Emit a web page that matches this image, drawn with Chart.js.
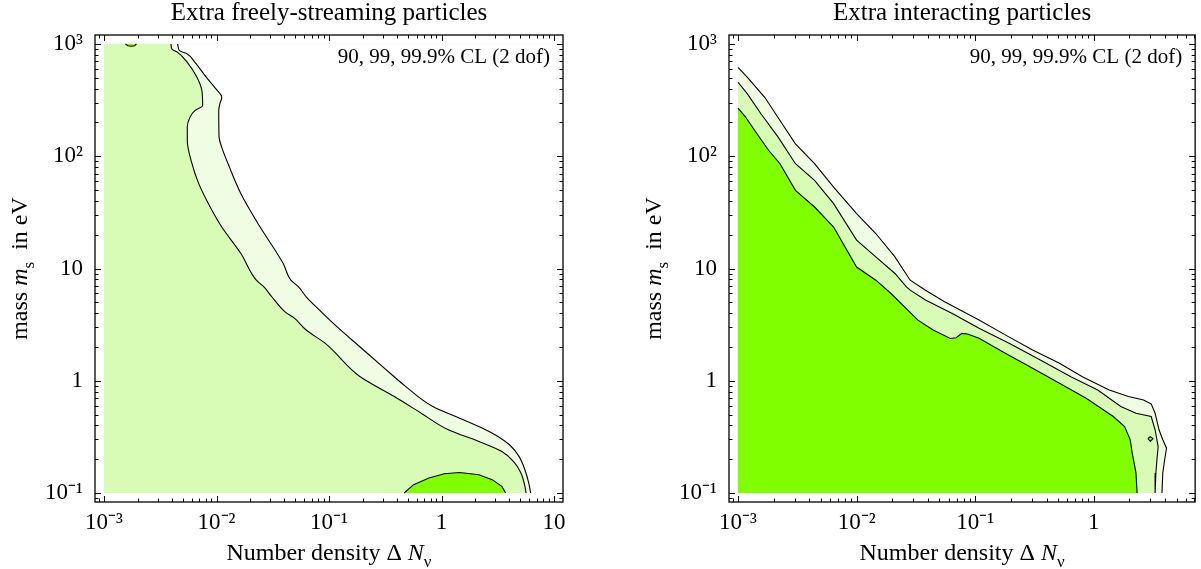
<!DOCTYPE html>
<html><head><meta charset="utf-8">
<script src="https://cdn.jsdelivr.net/npm/chart.js@4/dist/chart.umd.min.js"></script>
<style>
html,body{margin:0;padding:0;background:#fff;}
#wrap{position:relative;width:1201px;height:569px;overflow:hidden;}
canvas{position:absolute;top:0;}
</style></head><body>
<div id="wrap">
<canvas id="left" width="600" height="569" style="left:0"></canvas>
<canvas id="right" width="601" height="569" style="left:600px"></canvas>
</div>
<script>
// ---------------- text ----------------
const panelTitles = ['Extra freely-streaming particles', 'Extra interacting particles'];
const clLabel = '90, 99, 99.9% CL (2 dof)';
const yTitleParts = [['mass ', 'n'], ['m', 'i'], ['s', 'sub'], ['  in eV', 'n']];
const xTitleParts = [['Number density Δ ', 'n'], ['N', 'i'], ['ν', 'sub']];

// ---------------- ticks ----------------
const xTickValuesLeft = [1e-3, 1e-2, 1e-1, 1, 10];
const xTickLabelsLeft = ['10⁻³', '10⁻²', '10⁻¹', '1', '10'];
const xTickValuesRight = [1e-3, 1e-2, 1e-1, 1];
const xTickLabelsRight = ['10⁻³', '10⁻²', '10⁻¹', '1'];
const yTickValues = [0.1, 1, 10, 100, 1000];
const yTickLabels = ['10⁻¹', '1', '10', '10²', '10³'];
const minorFactors = [2, 3, 4, 5, 6, 7, 8, 9];

// data domain of the shaded regions
const domainXMin = 0.001;
const domainXMaxLeft = 10;
const domainYMin = 0.1;
const domainYMax = 1000;

// ---------------- left panel: freely-streaming ----------------
// 99.9% CL contour
const freeOuterX = [0.00452, 0.00470, 0.00550, 0.00643, 0.00813, 0.00989, 0.01114, 0.01072, 0.01047, 0.01054, 0.01114, 0.01303, 0.01648, 0.02443, 0.0392, 0.0458, 0.0536, 0.0627, 0.0794, 0.1175, 0.188, 0.301, 0.482, 0.837, 1.45, 2.32, 3.18, 4.02, 4.90, 5.51, 5.96, 6.20];
const freeOuterY = [1000, 871, 815, 686, 505, 398, 335, 293, 255, 148, 120, 80, 46.4, 23.4, 11.07, 7.87, 6.85, 5.60, 4.41, 3.03, 2.01, 1.33, 0.887, 0.589, 0.464, 0.378, 0.319, 0.269, 0.211, 0.161, 0.123, 0.1];
// 99% CL contour
const freeMidX = [0.00394, 0.00401, 0.00452, 0.00550, 0.00670, 0.00741, 0.00753, 0.00643, 0.00581, 0.00550, 0.00550, 0.00594, 0.00695, 0.00879, 0.01114, 0.01648, 0.0226, 0.0264, 0.0310, 0.0407, 0.0495, 0.0627, 0.0927, 0.188, 0.381, 0.660, 1.15, 2.15, 3.44, 4.36, 5.08, 5.51, 5.64];
const freeMidY = [1000, 903, 842, 686, 505, 385, 283, 255, 223, 181, 138, 91.8, 57.0, 35.3, 23.4, 13.6, 7.87, 6.85, 5.60, 4.11, 3.59, 2.83, 2.15, 1.09, 0.723, 0.514, 0.366, 0.288, 0.234, 0.191, 0.151, 0.115, 0.1];
// 90% CL islands
const freeInnerX = [0.465, 0.565, 0.773, 1.06, 1.45, 2.15, 2.82, 3.44, 3.72];
const freeInnerY = [0.1, 0.1186, 0.136, 0.1485, 0.1525, 0.1455, 0.1315, 0.1146, 0.1];
const freeIslandX = [0.00155, 0.00163, 0.00175, 0.00187, 0.00194];
const freeIslandY = [1000, 965, 955, 965, 1000];

// ---------------- right panel: interacting ----------------
const intOuterX = [0.001, 0.00120, 0.00168, 0.00226, 0.00305, 0.00442, 0.00640, 0.0100, 0.01452, 0.02105, 0.0283, 0.0381, 0.0552, 0.1078, 0.181, 0.305, 0.514, 0.802, 1.35, 1.96, 2.63, 3.05, 3.29, 3.55, 3.82, 4.11, 3.96, 3.82, 3.76];
const intOuterY = [620, 505, 335, 208, 129, 85.8, 53.1, 30.8, 20.5, 12.7, 7.87, 6.41, 5.05, 3.47, 2.55, 1.88, 1.43, 1.087, 0.828, 0.723, 0.675, 0.622, 0.514, 0.366, 0.298, 0.251, 0.198, 0.151, 0.1];
const intMidX = [0.001, 0.00120, 0.00156, 0.00218, 0.00305, 0.00442, 0.00640, 0.0100, 0.01452, 0.02105, 0.0263, 0.0283, 0.0381, 0.0641, 0.1078, 0.195, 0.354, 0.641, 1.08, 1.69, 2.27, 3.05, 3.29, 3.49, 3.41, 3.34, 3.29];
const intMidY = [456, 359, 239, 148, 85.8, 60.9, 37.8, 17.9, 12.7, 9.03, 6.85, 6.41, 5.24, 3.98, 2.93, 2.15, 1.53, 1.087, 0.828, 0.589, 0.514, 0.480, 0.366, 0.259, 0.198, 0.151, 0.1];
const intInnerX = [0.001, 0.00116, 0.00145, 0.00181, 0.00226, 0.00305, 0.00442, 0.00640, 0.0100, 0.01452, 0.0195, 0.0329, 0.0442, 0.0618, 0.0691, 0.0772, 0.0863, 0.1078, 0.181, 0.305, 0.514, 0.863, 1.46, 1.82, 2.03, 2.11, 2.27, 2.32];
const intInnerY = [268, 223, 158, 113, 85.8, 49.7, 35.3, 23.4, 10.3, 7.87, 5.99, 3.47, 2.83, 2.38, 2.42, 2.64, 2.61, 2.39, 1.75, 1.29, 0.950, 0.699, 0.480, 0.391, 0.298, 0.227, 0.151, 0.1];
const intIslandX = [2.86, 2.99, 3.16, 3.00, 2.86];
const intIslandY = [0.305, 0.318, 0.305, 0.288, 0.305];

// ---------------- colours ----------------
const col999 = '#effee2';
const col99 = '#d8fcb6';
const col90 = '#80ff00';
const FONT = '"Liberation Serif", "Times New Roman", serif';

function pts(xs, ys) { return xs.map((x, i) => ({x: x, y: ys[i]})); }
function region(xs, ys) {
  const p = pts(xs, ys);
  const poly = [{x: domainXMin, y: domainYMin}];
  if (p[0].x > domainXMin) poly.push({x: domainXMin, y: p[0].y});
  return poly.concat(p);
}
function fillDs(data, color, order, smooth) {
  return {data: data, fill: 'shape', backgroundColor: color, borderColor: 'rgba(0,0,0,0)', borderWidth: 0,
    pointRadius: 0, tension: 0, indexAxis: 'y', cubicInterpolationMode: smooth ? 'monotone' : 'default', order: order};
}
function lineDs(data, smooth, color, width, order) {
  return {data: data, fill: false, borderColor: color || '#000', borderWidth: width || 1.1, pointRadius: 0,
    tension: 0, indexAxis: 'y', cubicInterpolationMode: smooth ? 'monotone' : 'default', order: order || 0};
}
function tickList(majors, min, max) {
  const out = [];
  const decades = [majors[0] / 10].concat(majors);
  decades.forEach(function (d) {
    if (d >= min && d <= max && majors.indexOf(d) >= 0) out.push({value: d, major: true});
    minorFactors.forEach(function (f) {
      const v = +(d * f).toPrecision(6);
      if (v >= min && v <= max) out.push({value: v, major: false});
    });
  });
  return out.sort(function (a, b) { return a.value - b.value; });
}

function drawRich(ctx, parts, size) {
  const specs = parts.map(function (p) {
    const t = p[0], s = p[1];
    const font = s === 'i' ? 'italic ' + size + 'px ' + FONT : s === 'sub' ? Math.round(size * 0.72) + 'px ' + FONT : size + 'px ' + FONT;
    ctx.font = font;
    return {t: t, font: font, dy: s === 'sub' ? size * 0.28 : 0, w: ctx.measureText(t).width};
  });
  const total = specs.reduce(function (a, s) { return a + s.w; }, 0);
  let x = -total / 2;
  ctx.textAlign = 'left';
  ctx.textBaseline = 'alphabetic';
  specs.forEach(function (s) { ctx.font = s.font; ctx.fillText(s.t, x, s.dy); x += s.w; });
}

const framePlugin = {
  id: 'frame',
  afterDatasetsDraw: function (chart) {
    const ctx = chart.ctx, a = chart.chartArea;
    ctx.save();
    ctx.strokeStyle = '#000';
    ctx.lineWidth = 1;
    ctx.beginPath();
    const xs = chart.scales.x, ys = chart.scales.y;
    xs.ticks.forEach(function (t) {
      const px = Math.round(xs.getPixelForValue(t.value)) + 0.5;
      const L = t.major ? 6 : 3.5;
      ctx.moveTo(px, a.bottom); ctx.lineTo(px, a.bottom - L);
      ctx.moveTo(px, a.top); ctx.lineTo(px, a.top + L);
    });
    ys.ticks.forEach(function (t) {
      const py = Math.round(ys.getPixelForValue(t.value)) + 0.5;
      const L = t.major ? 6 : 3.5;
      ctx.moveTo(a.left, py); ctx.lineTo(a.left + L, py);
      ctx.moveTo(a.right, py); ctx.lineTo(a.right - L, py);
    });
    ctx.stroke();
    ctx.lineWidth = 1.3;
    ctx.strokeRect(a.left, a.top, a.right - a.left, a.bottom - a.top);
    // CL note
    ctx.fillStyle = '#000';
    ctx.font = '21px ' + FONT;
    ctx.textAlign = 'right';
    ctx.textBaseline = 'alphabetic';
    ctx.fillText(clLabel, a.right - 13, a.top + 28);
    // x axis title
    ctx.save();
    ctx.translate((a.left + a.right) / 2, a.bottom + 58);
    drawRich(ctx, xTitleParts, 24);
    ctx.restore();
    // y axis title
    ctx.save();
    ctx.translate(a.left - 68, (a.top + a.bottom) / 2);
    ctx.rotate(-Math.PI / 2);
    drawRich(ctx, yTitleParts, 24);
    ctx.restore();
    ctx.restore();
  }
};

function makeChart(id, title, datasets, xmin, xmax, xMajors, xLabels, yAxisWidth, padRight) {
  const yMin = Math.pow(10, -1.08), yMax = Math.pow(10, 3.08);
  return new Chart(document.getElementById(id), {
    type: 'line',
    data: {datasets: datasets},
    plugins: [framePlugin],
    options: {
      responsive: false,
      animation: false,
      events: [],
      indexAxis: 'y',
      layout: {padding: {left: 0, right: padRight, top: 0, bottom: 0}},
      plugins: {
        legend: {display: false},
        tooltip: {enabled: false},
        title: {display: true, text: title, fullSize: false, color: '#000',
          font: {family: FONT, size: 25, weight: 'normal', lineHeight: 1.0},
          padding: {top: 1, bottom: 9}}
      },
      scales: {
        x: {
          type: 'logarithmic', position: 'bottom', bounds: 'data', min: xmin, max: xmax,
          grid: {display: false, drawTicks: false}, border: {display: false},
          afterBuildTicks: function (s) { s.ticks = tickList(xMajors, xmin, xmax); },
          afterFit: function (s) { s.height = 67; },
          ticks: {autoSkip: false, maxRotation: 0, padding: 7, color: '#000',
            font: {family: FONT, size: 23},
            callback: function (v) { const k = xMajors.indexOf(v); return k >= 0 ? xLabels[k] : ''; }}
        },
        y: {
          type: 'logarithmic', position: 'left', bounds: 'data', min: yMin, max: yMax,
          grid: {display: false, drawTicks: false}, border: {display: false},
          afterBuildTicks: function (s) { s.ticks = tickList(yTickValues, yMin, yMax); },
          afterFit: function (s) { s.width = yAxisWidth; },
          ticks: {autoSkip: false, padding: 12, color: '#000',
            font: {family: FONT, size: 23},
            callback: function (v) { const k = yTickValues.indexOf(v); return k >= 0 ? yTickLabels[k] : ''; }}
        }
      }
    }
  });
}

const leftSets = [
  lineDs(pts(freeOuterX, freeOuterY), true),
  lineDs(pts(freeMidX, freeMidY), true),
  lineDs(pts(freeInnerX, freeInnerY), false),
  lineDs(pts(freeIslandX, freeIslandY), false),
  fillDs(pts(freeInnerX, freeInnerY), col90, 1, false),
  fillDs(pts(freeIslandX, freeIslandY), col90, 1, false),
  fillDs(region(freeMidX, freeMidY), col99, 2, true),
  fillDs(region(freeOuterX, freeOuterY), col999, 3, true),
  lineDs(pts([domainXMin, domainXMaxLeft], [domainYMax, domainYMax]), false, col999, 1, 4)
];
const rightSets = [
  lineDs(pts(intOuterX, intOuterY), false),
  lineDs(pts(intMidX, intMidY), false),
  lineDs(pts(intInnerX, intInnerY), false),
  lineDs(pts(intIslandX, intIslandY), false),
  fillDs(pts(intIslandX, intIslandY), col90, 1, false),
  fillDs(region(intInnerX, intInnerY), col90, 1, false),
  fillDs(region(intMidX, intMidY), col99, 2, false),
  fillDs(region(intOuterX, intOuterY), col999, 3, false)
];

makeChart('left', panelTitles[0], leftSets, Math.pow(10, -3.08), Math.pow(10, 1.08), xTickValuesLeft, xTickLabelsLeft, 95, 37);
makeChart('right', panelTitles[1], rightSets, Math.pow(10, -3.076), Math.pow(10, 0.855), xTickValuesRight, xTickLabelsRight, 129, 4.5);
</script>
</body></html>
